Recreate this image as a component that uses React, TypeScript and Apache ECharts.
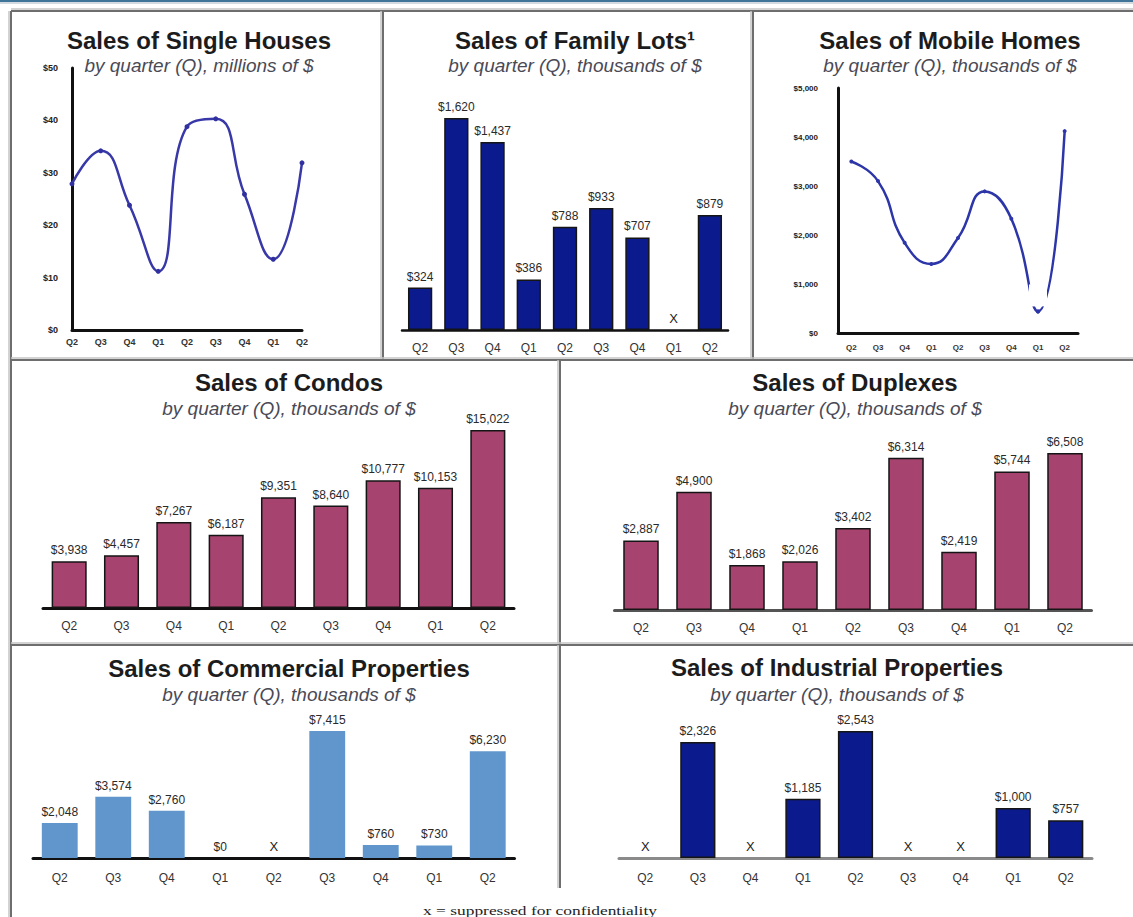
import React, { useEffect, useRef } from "react";
import * as echarts from "echarts";

const quarters = ["Q2", "Q3", "Q4", "Q1", "Q2", "Q3", "Q4", "Q1", "Q2"];

const singleHousesValues = [27.9, 34.2, 23.8, 11.2, 38.8, 40.3, 25.9, 13.5, 31.9];
const familyLotsValues: (number | null)[] = [324, 1620, 1437, 386, 788, 933, 707, null, 879];
const mobileHomesValues = [3500, 3100, 1840, 1410, 1940, 2890, 2330, 440, 4120];
const condosValues = [3938, 4457, 7267, 6187, 9351, 8640, 10777, 10153, 15022];
const duplexesValues = [2887, 4900, 1868, 2026, 3402, 6314, 2419, 5744, 6508];
const commercialValues: (number | null)[] = [2048, 3574, 2760, 0, null, 7415, 760, 730, 6230];
const industrialValues: (number | null)[] = [null, 2326, null, 1185, 2543, null, null, 1000, 757];

const titles = [
  "Sales of Single Houses",
  "Sales of Family Lots\u00b9",
  "Sales of Mobile Homes",
  "Sales of Condos",
  "Sales of Duplexes",
  "Sales of Commercial Properties",
  "Sales of Industrial Properties",
];
const subtitles = [
  "by quarter (Q), millions of $",
  "by quarter (Q), thousands of $",
  "by quarter (Q), thousands of $",
  "by quarter (Q), thousands of $",
  "by quarter (Q), thousands of $",
  "by quarter (Q), thousands of $",
  "by quarter (Q), thousands of $",
];
const footnote = "x = suppressed for confidentiality";

const FONT = '"Liberation Sans", Arial, Helvetica, sans-serif';

// layout (positions only)
const titlePos = [
  { cx: 199, ty: 40, sy: 65 },
  { cx: 575, ty: 40, sy: 65 },
  { cx: 950, ty: 40, sy: 65 },
  { cx: 289, ty: 382, sy: 408 },
  { cx: 855, ty: 382, sy: 408 },
  { cx: 289, ty: 668, sy: 694 },
  { cx: 837, ty: 667, sy: 694 },
];

const fmtMoney = (v: number) => "$" + Number(v).toLocaleString("en-US");

function App() {
  const ref = useRef<HTMLDivElement>(null);

  useEffect(() => {
    if (!ref.current) return;
    const chart = echarts.init(ref.current, undefined, { renderer: "svg" });

    const grids = [
      { left: 72, top: 68, width: 230, height: 262 }, // single houses
      { left: 402, top: 107.5, width: 326, height: 222.5 }, // family lots
      { left: 838, top: 88, width: 240, height: 245 }, // mobile
      { left: 43, top: 418.4, width: 471, height: 189.6 }, // condos
      { left: 614.5, top: 441.2, width: 477, height: 168.8 }, // duplexes
      { left: 33, top: 721, width: 481.5, height: 137 }, // commercial
      { left: 619, top: 728.2, width: 473, height: 129.8 }, // industrial
    ].map((g) => ({ ...g, containLabel: false, outerBoundsMode: "none" }));

    const catAxis = (gridIndex: number, opts: any) => ({
      type: "category",
      gridIndex,
      data: quarters,
      boundaryGap: opts.boundaryGap !== false,
      axisTick: { show: false },
      axisLine: { show: true, lineStyle: { color: opts.lineColor || "#111", width: opts.lineWidth || 3 } },
      axisLabel: {
        fontSize: opts.fontSize || 12,
        fontWeight: opts.fontWeight || "normal",
        color: "#333",
        margin: opts.margin || 12,
        fontFamily: FONT,
        interval: 0,
      },
    });

    const hiddenY = (gridIndex: number, max: number) => ({
      type: "value",
      gridIndex,
      min: 0,
      max,
      show: false,
      splitLine: { show: false },
    });

    const xAxis = [
      catAxis(0, { boundaryGap: false, fontSize: 9, fontWeight: "bold", margin: 7 }),
      catAxis(1, { lineWidth: 2.5 }),
      catAxis(2, { fontSize: 8, fontWeight: "bold", margin: 10 }),
      catAxis(3, {}),
      catAxis(4, { lineColor: "#555" }),
      catAxis(5, { margin: 14 }),
      catAxis(6, { lineColor: "#8a8a8a", margin: 14 }),
    ];

    const yAxis = [
      {
        type: "value",
        gridIndex: 0,
        min: 0,
        max: 50,
        interval: 10,
        axisLine: { show: true, lineStyle: { color: "#111", width: 3 } },
        axisTick: { show: false },
        splitLine: { show: false },
        axisLabel: {
          fontSize: 9,
          fontWeight: "bold",
          color: "#222",
          margin: 14,
          fontFamily: FONT,
          formatter: (v: number) => "$" + v,
        },
      },
      hiddenY(1, 1700),
      {
        type: "value",
        gridIndex: 2,
        min: 0,
        max: 5000,
        interval: 1000,
        axisLine: { show: true, lineStyle: { color: "#111", width: 3 } },
        axisTick: { show: false },
        splitLine: { show: false },
        axisLabel: {
          fontSize: 8,
          fontWeight: "bold",
          color: "#222",
          margin: 20,
          fontFamily: FONT,
          formatter: (v: number) => fmtMoney(v),
        },
      },
      hiddenY(3, 16000),
      hiddenY(4, 7000),
      hiddenY(5, 8000),
      hiddenY(6, 2600),
    ];

    const barData = (vals: (number | null)[]) =>
      vals.map((v) =>
        v === null
          ? {
              value: 0,
              itemStyle: { color: "rgba(0,0,0,0)", borderWidth: 0, borderColor: "rgba(0,0,0,0)" },
              label: { show: true, formatter: "X", fontSize: 13, color: "#222" },
            }
          : v
      );

    const barLabel = {
      show: true,
      position: "top",
      distance: 5,
      fontSize: 12,
      color: "#2a2a2a",
      fontFamily: FONT,
      formatter: (p: any) => fmtMoney(p.value),
    };

    const barSeries = (idx: number, vals: (number | null)[], color: string, border: boolean) => ({
      type: "bar",
      xAxisIndex: idx,
      yAxisIndex: idx,
      data: barData(vals),
      barWidth: "67%",
      itemStyle: border
        ? { color, borderColor: "#151515", borderWidth: 1.5 }
        : { color, borderWidth: 0 },
      label: barLabel,
    });

    // the isolated Q1 point of mobile homes, drawn on top with a white mask above it
    const mobileIsolated = mobileHomesValues.map((v, i) => (i === 7 ? v : "-"));

    const series: any[] = [
      {
        type: "line",
        xAxisIndex: 0,
        yAxisIndex: 0,
        data: singleHousesValues,
        smooth: 0.5,
        symbol: "circle",
        symbolSize: 5,
        lineStyle: { color: "#3838a8", width: 2.5 },
        itemStyle: { color: "#3030a0" },
      },
      barSeries(1, familyLotsValues, "#0b1a8c", true),
      {
        type: "line",
        xAxisIndex: 2,
        yAxisIndex: 2,
        data: mobileHomesValues,
        smooth: 0.5,
        symbol: "circle",
        symbolSize: 4,
        lineStyle: { color: "#2c36a8", width: 2.5 },
        itemStyle: { color: "#2c36a8" },
        z: 2,
      },
      {
        type: "scatter",
        xAxisIndex: 2,
        yAxisIndex: 2,
        data: mobileIsolated,
        symbol: "circle",
        symbolSize: 4,
        itemStyle: { color: "#2c36a8", opacity: 1 },
        z: 10,
        label: {
          show: true,
          position: "top",
          distance: 3,
          formatter: "{m|}",
          rich: { m: { width: 18, height: 22, backgroundColor: "#ffffff" } },
        },
      },
      barSeries(3, condosValues, "#a6446f", true),
      barSeries(4, duplexesValues, "#a6446f", true),
      barSeries(5, commercialValues, "#6096cb", false),
      barSeries(6, industrialValues, "#0b1a8c", true),
    ];

    const dark = "#6e6e6e";
    const light = "#c4c4c4";
    const frameLine = (x1: number, y1: number, x2: number, y2: number) => {
      const v = x1 === x2;
      return [
        {
          type: "line",
          shape: { x1: v ? x1 - 2 : x1, y1: v ? y1 : y1 - 2, x2: v ? x2 - 2 : x2, y2: v ? y2 : y2 - 2 },
          style: { stroke: light, lineWidth: 1.5 },
          silent: true,
        },
        {
          type: "line",
          shape: { x1, y1, x2, y2 },
          style: { stroke: dark, lineWidth: 2 },
          silent: true,
        },
      ];
    };

    const graphic: any[] = [
      { type: "rect", shape: { x: 0, y: 0, width: 1133, height: 2 }, style: { fill: "#3f7598" }, silent: true },
      { type: "rect", shape: { x: 0, y: 2, width: 1133, height: 2 }, style: { fill: "#d3dbe0" }, silent: true },
      ...frameLine(11, 11, 1133, 11),
      ...frameLine(11, 11, 11, 917),
      ...frameLine(383, 11, 383, 360),
      ...frameLine(753, 11, 753, 360),
      ...frameLine(11, 360, 1133, 360),
      ...frameLine(560, 360, 560, 645),
      ...frameLine(11, 645, 1133, 645),
      ...frameLine(560, 645, 560, 888),
    ];

    titles.forEach((t, i) => {
      const p = titlePos[i];
      graphic.push({
        type: "text",
        x: p.cx,
        y: p.ty,
        silent: true,
        style: {
          text: t,
          fontFamily: FONT,
          fontSize: 24,
          fontWeight: "bold",
          fill: "#1c1c1c",
          textAlign: "center",
          textVerticalAlign: "middle",
        },
      });
      graphic.push({
        type: "text",
        x: p.cx,
        y: p.sy,
        silent: true,
        style: {
          text: subtitles[i],
          fontFamily: FONT,
          fontSize: 19,
          fontStyle: "italic",
          fill: "#4a4a55",
          textAlign: "center",
          textVerticalAlign: "middle",
        },
      });
    });

    graphic.push({
      type: "text",
      x: 540,
      y: 911,
      scaleX: 1.45,
      silent: true,
      style: {
        text: footnote,
        fontFamily: '"Liberation Serif", "DejaVu Serif", serif',
        fontSize: 12,
        fill: "#222",
        textAlign: "center",
        textVerticalAlign: "middle",
      },
    });

    chart.setOption({
      animation: false,
      backgroundColor: "#ffffff",
      grid: grids,
      xAxis,
      yAxis,
      series,
      graphic,
    });

    return () => chart.dispose();
  }, []);

  return (
    <div
      ref={ref}
      style={{ position: "fixed", left: 0, top: 0, width: 1133, height: 917, background: "#fff" }}
    />
  );
}

export default App;
